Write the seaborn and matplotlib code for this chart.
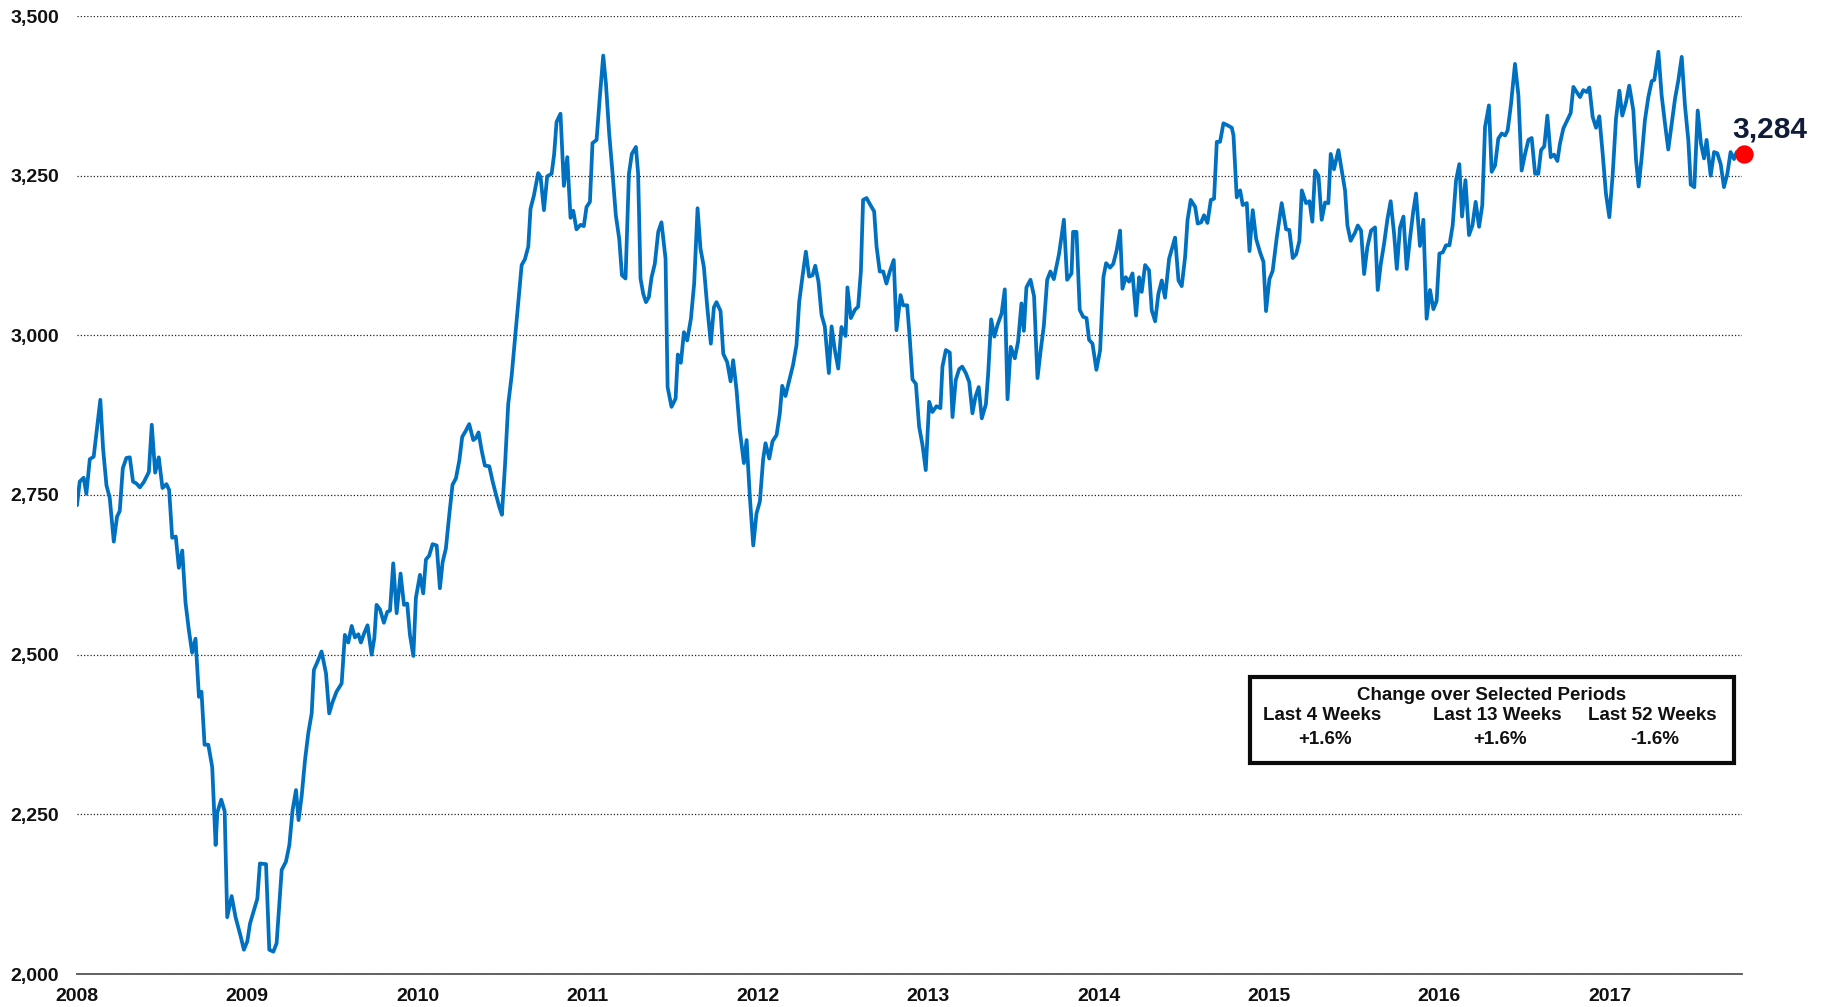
import numpy as np
import pandas as pd
import matplotlib
matplotlib.use("Agg")
import matplotlib.pyplot as plt
from matplotlib.patches import Rectangle
from matplotlib.ticker import MultipleLocator, FuncFormatter
import seaborn as sns

# ---- data: position within the year (fraction) and index value ----
frac_2008 = [0.000, 0.016, 0.039, 0.055, 0.075, 0.098, 0.137, 0.153, 0.173, 0.192, 0.216, 0.235, 0.251, 0.269, 0.290, 0.310, 0.329, 0.349, 0.369, 0.392, 0.422, 0.439, 0.459, 0.480, 0.502, 0.525, 0.541, 0.559, 0.580, 0.598, 0.618, 0.637, 0.657, 0.676, 0.696, 0.716, 0.731, 0.749, 0.771, 0.794, 0.814, 0.824, 0.847, 0.867, 0.882, 0.908, 0.931, 0.961, 0.980]
val_2008 = [2734, 2771, 2777, 2752, 2806, 2810, 2899, 2823, 2765, 2746, 2677, 2716, 2725, 2792, 2808, 2809, 2771, 2768, 2762, 2770, 2786, 2860, 2785, 2809, 2761, 2767, 2758, 2683, 2685, 2636, 2663, 2582, 2538, 2503, 2525, 2434, 2442, 2359, 2359, 2324, 2202, 2253, 2273, 2255, 2089, 2122, 2089, 2059, 2038]

frac_2009 = [0.000, 0.016, 0.045, 0.059, 0.074, 0.110, 0.129, 0.153, 0.172, 0.202, 0.227, 0.247, 0.266, 0.286, 0.301, 0.319, 0.339, 0.358, 0.378, 0.391, 0.417, 0.436, 0.462, 0.481, 0.501, 0.524, 0.554, 0.573, 0.593, 0.613, 0.632, 0.652, 0.667, 0.687, 0.706, 0.730, 0.746, 0.759, 0.779, 0.802, 0.822, 0.838, 0.857, 0.877, 0.900, 0.920, 0.939, 0.955, 0.975, 0.990]
val_2009 = [2051, 2079, 2105, 2118, 2173, 2172, 2038, 2035, 2048, 2163, 2176, 2202, 2257, 2288, 2241, 2278, 2335, 2377, 2408, 2476, 2492, 2505, 2471, 2408, 2426, 2442, 2455, 2531, 2519, 2545, 2527, 2532, 2519, 2534, 2546, 2500, 2526, 2578, 2571, 2550, 2567, 2569, 2643, 2565, 2627, 2578, 2580, 2531, 2498, 2589]

frac_2010 = [0.014, 0.033, 0.049, 0.068, 0.088, 0.112, 0.131, 0.147, 0.166, 0.186, 0.205, 0.225, 0.245, 0.262, 0.284, 0.303, 0.327, 0.342, 0.358, 0.376, 0.395, 0.421, 0.440, 0.460, 0.479, 0.495, 0.513, 0.532, 0.552, 0.571, 0.591, 0.611, 0.630, 0.650, 0.663, 0.683, 0.708, 0.722, 0.742, 0.761, 0.787, 0.802, 0.816, 0.839, 0.859, 0.879, 0.898, 0.914, 0.933, 0.957, 0.976, 0.992]
val_2010 = [2625, 2596, 2649, 2655, 2673, 2671, 2604, 2645, 2666, 2719, 2766, 2776, 2804, 2841, 2851, 2861, 2836, 2839, 2848, 2820, 2796, 2795, 2772, 2751, 2732, 2719, 2795, 2892, 2936, 2992, 3051, 3110, 3119, 3139, 3198, 3219, 3254, 3248, 3196, 3249, 3253, 3284, 3334, 3347, 3234, 3279, 3184, 3195, 3166, 3173, 3171, 3201]

frac_2011 = [0.012, 0.027, 0.051, 0.070, 0.090, 0.106, 0.125, 0.145, 0.164, 0.184, 0.200, 0.221, 0.241, 0.258, 0.282, 0.295, 0.309, 0.325, 0.341, 0.358, 0.374, 0.393, 0.413, 0.432, 0.456, 0.468, 0.491, 0.515, 0.528, 0.546, 0.564, 0.583, 0.605, 0.624, 0.644, 0.661, 0.681, 0.701, 0.722, 0.740, 0.755, 0.779, 0.795, 0.818, 0.838, 0.853, 0.873, 0.892, 0.916, 0.932, 0.951, 0.971, 0.990]
val_2011 = [3209, 3301, 3306, 3373, 3438, 3394, 3316, 3253, 3188, 3151, 3094, 3089, 3253, 3284, 3295, 3253, 3089, 3065, 3052, 3060, 3091, 3112, 3162, 3177, 3120, 2919, 2888, 2901, 2970, 2957, 3005, 2992, 3026, 3081, 3199, 3136, 3107, 3044, 2987, 3044, 3052, 3038, 2971, 2958, 2928, 2961, 2914, 2851, 2800, 2836, 2747, 2671, 2721]

frac_2012 = [0.010, 0.029, 0.043, 0.065, 0.084, 0.108, 0.127, 0.141, 0.160, 0.180, 0.205, 0.225, 0.241, 0.260, 0.280, 0.299, 0.319, 0.335, 0.354, 0.372, 0.391, 0.415, 0.431, 0.450, 0.470, 0.489, 0.513, 0.524, 0.544, 0.568, 0.587, 0.603, 0.616, 0.636, 0.659, 0.681, 0.695, 0.714, 0.734, 0.753, 0.773, 0.796, 0.812, 0.836, 0.851, 0.875, 0.890, 0.906, 0.926, 0.945, 0.965, 0.984]
val_2012 = [2740, 2806, 2831, 2807, 2834, 2844, 2878, 2921, 2905, 2927, 2954, 2985, 3053, 3092, 3131, 3092, 3094, 3109, 3084, 3032, 3014, 2941, 3014, 2977, 2948, 3013, 2999, 3075, 3027, 3040, 3045, 3100, 3212, 3215, 3204, 3194, 3139, 3100, 3100, 3081, 3100, 3118, 3008, 3063, 3047, 3047, 2995, 2931, 2924, 2857, 2828, 2789]

frac_2013 = [0.004, 0.023, 0.047, 0.070, 0.082, 0.102, 0.125, 0.141, 0.160, 0.180, 0.198, 0.219, 0.239, 0.258, 0.276, 0.295, 0.313, 0.337, 0.350, 0.368, 0.387, 0.405, 0.429, 0.448, 0.464, 0.483, 0.507, 0.526, 0.546, 0.560, 0.575, 0.599, 0.620, 0.640, 0.659, 0.677, 0.697, 0.716, 0.736, 0.767, 0.795, 0.814, 0.840, 0.849, 0.869, 0.888, 0.908, 0.928, 0.943, 0.963, 0.986]
val_2013 = [2896, 2880, 2889, 2886, 2951, 2977, 2973, 2872, 2930, 2947, 2951, 2941, 2927, 2878, 2904, 2919, 2870, 2892, 2938, 3025, 2998, 3016, 3034, 3072, 2900, 2982, 2964, 2990, 3050, 3007, 3075, 3087, 3061, 2933, 2977, 3014, 3087, 3100, 3088, 3128, 3181, 3087, 3097, 3162, 3162, 3040, 3029, 3027, 2993, 2987, 2946]

frac_2014 = [0.008, 0.027, 0.043, 0.066, 0.085, 0.105, 0.125, 0.139, 0.158, 0.178, 0.198, 0.219, 0.237, 0.252, 0.272, 0.295, 0.311, 0.331, 0.350, 0.370, 0.389, 0.413, 0.448, 0.468, 0.487, 0.507, 0.521, 0.540, 0.566, 0.581, 0.601, 0.618, 0.638, 0.658, 0.677, 0.693, 0.712, 0.732, 0.755, 0.781, 0.791, 0.810, 0.830, 0.845, 0.869, 0.885, 0.904, 0.924, 0.947, 0.967, 0.982]
val_2014 = [2977, 3091, 3113, 3106, 3112, 3133, 3164, 3073, 3091, 3084, 3097, 3031, 3091, 3068, 3110, 3102, 3039, 3022, 3065, 3086, 3059, 3120, 3153, 3086, 3077, 3123, 3180, 3212, 3201, 3175, 3177, 3188, 3176, 3212, 3214, 3303, 3303, 3332, 3329, 3325, 3313, 3216, 3227, 3204, 3207, 3132, 3196, 3151, 3130, 3115, 3038]

frac_2015 = [0.002, 0.021, 0.045, 0.074, 0.100, 0.119, 0.139, 0.159, 0.178, 0.192, 0.217, 0.237, 0.254, 0.270, 0.290, 0.309, 0.329, 0.348, 0.362, 0.381, 0.407, 0.427, 0.446, 0.460, 0.479, 0.505, 0.521, 0.540, 0.558, 0.577, 0.599, 0.622, 0.638, 0.656, 0.675, 0.695, 0.714, 0.734, 0.750, 0.769, 0.789, 0.808, 0.828, 0.847, 0.863, 0.886, 0.906, 0.925, 0.945, 0.965, 0.984]
val_2015 = [3088, 3101, 3153, 3207, 3166, 3165, 3121, 3127, 3148, 3227, 3207, 3210, 3178, 3258, 3250, 3181, 3208, 3207, 3284, 3260, 3290, 3258, 3227, 3172, 3148, 3161, 3172, 3164, 3096, 3138, 3164, 3169, 3071, 3112, 3143, 3182, 3210, 3159, 3104, 3169, 3186, 3104, 3153, 3195, 3222, 3140, 3181, 3026, 3071, 3041, 3054]

frac_2016 = [0.000, 0.020, 0.039, 0.059, 0.078, 0.098, 0.117, 0.133, 0.153, 0.174, 0.194, 0.213, 0.233, 0.252, 0.268, 0.291, 0.307, 0.327, 0.346, 0.366, 0.386, 0.401, 0.421, 0.444, 0.464, 0.483, 0.503, 0.523, 0.542, 0.562, 0.581, 0.597, 0.616, 0.634, 0.654, 0.673, 0.693, 0.708, 0.728, 0.751, 0.771, 0.787, 0.806, 0.826, 0.845, 0.865, 0.881, 0.900, 0.920, 0.939, 0.959, 0.978, 0.998]
val_2016 = [3128, 3130, 3141, 3141, 3172, 3243, 3268, 3186, 3243, 3157, 3172, 3209, 3170, 3204, 3326, 3360, 3256, 3266, 3308, 3316, 3313, 3321, 3363, 3425, 3376, 3258, 3284, 3306, 3309, 3253, 3253, 3290, 3296, 3344, 3279, 3283, 3273, 3300, 3324, 3337, 3348, 3389, 3381, 3373, 3384, 3381, 3388, 3342, 3325, 3343, 3284, 3222, 3185]

frac_2017 = [0.018, 0.037, 0.057, 0.074, 0.096, 0.115, 0.139, 0.155, 0.170, 0.188, 0.207, 0.227, 0.247, 0.262, 0.286, 0.305, 0.325, 0.344, 0.364, 0.384, 0.403, 0.423, 0.442, 0.462, 0.476, 0.497, 0.517, 0.536, 0.554, 0.569, 0.593, 0.613, 0.632, 0.652, 0.671, 0.691, 0.710, 0.730, 0.746, 0.790]
val_2017 = [3253, 3339, 3383, 3344, 3365, 3391, 3352, 3274, 3233, 3279, 3337, 3373, 3398, 3400, 3444, 3376, 3331, 3291, 3331, 3371, 3399, 3436, 3360, 3305, 3236, 3232, 3352, 3300, 3277, 3306, 3250, 3287, 3285, 3268, 3232, 3253, 3287, 3276, 3287, 3284]

years = list(range(2008, 2018))
y_ticks = [2000, 2250, 2500, 2750, 3000, 3250, 3500]

box_title = "Change over Selected Periods"
periods = ["Last 4 Weeks", "Last 13 Weeks", "Last 52 Weeks"]
changes = [1.6, 1.6, -1.6]

# ---- assemble ----
fr = [frac_2008, frac_2009, frac_2010, frac_2011, frac_2012, frac_2013,
      frac_2014, frac_2015, frac_2016, frac_2017]
vl = [val_2008, val_2009, val_2010, val_2011, val_2012, val_2013,
      val_2014, val_2015, val_2016, val_2017]
t, v = [], []
for yr, f, vv in zip(years, fr, vl):
    assert len(f) == len(vv), yr
    t += [yr + x for x in f]
    v += vv
df = pd.DataFrame({"t": t, "v": v})

# ---- figure ----
W, H = 1827, 1007
sns.set_style("white")
plt.rcParams["font.family"] = ["Liberation Sans", "DejaVu Sans"]
fig = plt.figure(figsize=(W / 100, H / 100), dpi=100)
ax = fig.add_axes([77 / W, 1 - 974 / H, (1742 - 77) / W, (974 - 16) / H])

sns.lineplot(data=df, x="t", y="v", ax=ax, color="#0070C0", linewidth=2.7,
             estimator=None, sort=False, zorder=3)
sns.scatterplot(x=[t[-1]], y=[v[-1]], ax=ax, s=175, color="#FF0000",
                linewidth=0, zorder=5, clip_on=False)
ax.annotate(f"{v[-1]:,}", xy=(t[-1], v[-1]), xytext=(-12, 24),
            textcoords="offset pixels", ha="left", va="center",
            fontsize=21.5, fontweight="bold", color="#111d38",
            annotation_clip=False)

ax.set_xlim(2008, 2017.777)
ax.set_ylim(2000, 3500)
ax.set_xlabel("")
ax.set_ylabel("")

ax.set_xticks(years)
ax.set_xticklabels([str(y) for y in years])
ax.xaxis.set_minor_locator(MultipleLocator(0.25))
ax.set_yticks(y_ticks)
ax.yaxis.set_major_formatter(FuncFormatter(lambda x, p: f"{x:,.0f}"))

ax.grid(axis="y", color="#222222", linestyle=(0, (1, 1.6)), linewidth=0.9)
ax.grid(axis="x", visible=False)
for s in ["top", "right", "left"]:
    ax.spines[s].set_visible(False)
ax.spines["bottom"].set_color("#555555")
ax.spines["bottom"].set_linewidth(1.3)
ax.spines["bottom"].set_zorder(4)

ax.tick_params(axis="x", which="major", direction="inout", length=10,
               width=1.2, color="#555555", pad=5, labelsize=14)
ax.tick_params(axis="x", which="minor", direction="in", length=4,
               width=1.0, color="#555555")
ax.tick_params(axis="y", length=0, pad=13, labelsize=14)
for lab in ax.get_xticklabels() + ax.get_yticklabels():
    lab.set_fontweight("bold")
    lab.set_color("#111111")

# ---- summary box ----
bx0, by0, bx1, by1 = 1250, 677, 1734, 763
fig.patches.append(Rectangle((bx0 / W, 1 - by1 / H), (bx1 - bx0) / W,
                             (by1 - by0) / H, transform=fig.transFigure,
                             facecolor="white", edgecolor="#0a0a0a",
                             linewidth=3, zorder=10))
fig.text(1492 / W, 1 - 696 / H, box_title, ha="center", va="center",
         fontsize=13.5, fontweight="bold", color="#111111", zorder=11)
col_x = [1322, 1497, 1652]
for cx, p, c in zip(col_x, periods, changes):
    fig.text(cx / W, 1 - 716 / H, p, ha="center", va="center",
             fontsize=13.5, fontweight="bold", color="#111111", zorder=11)
    fig.text((cx + 3) / W, 1 - 740 / H, f"{c:+.1f}%", ha="center",
             va="center", fontsize=13.5, fontweight="bold",
             color="#111111", zorder=11)

fig.savefig("out.png", dpi=100)
